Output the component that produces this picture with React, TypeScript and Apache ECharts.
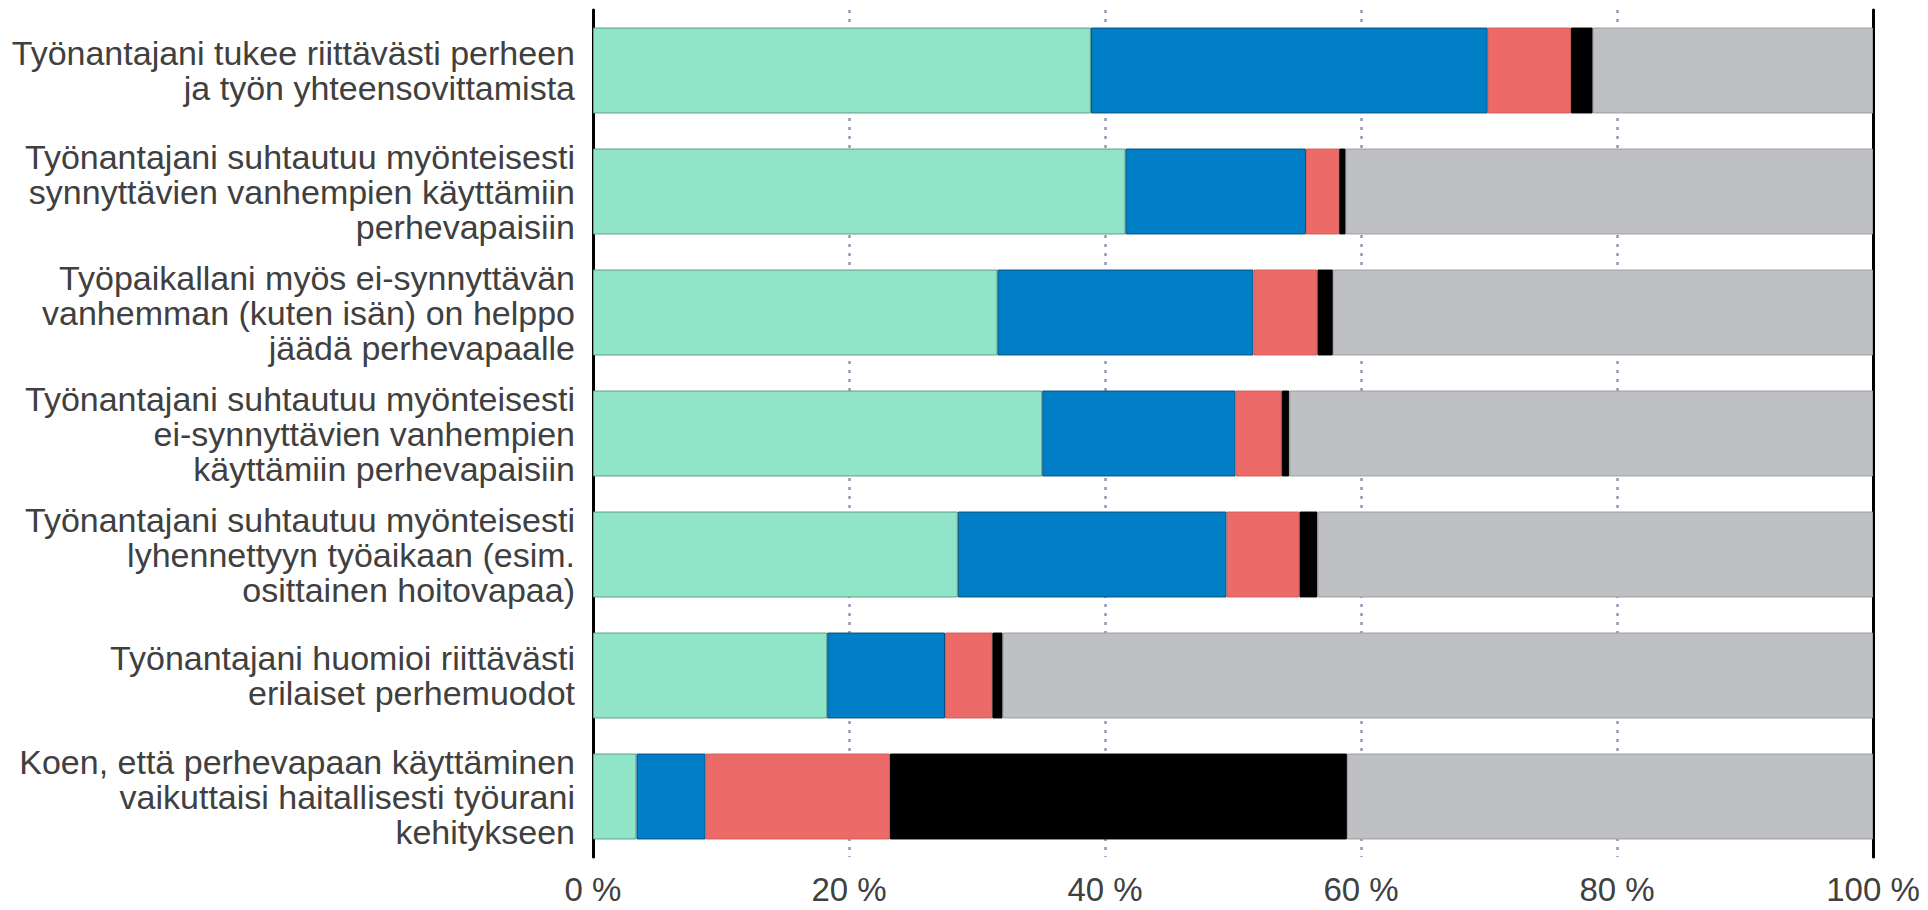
import React, { useEffect, useRef } from "react";
import * as echarts from "echarts";

const categories = [
  "Työnantajani tukee riittävästi perheen\nja työn yhteensovittamista",
  "Työnantajani suhtautuu myönteisesti\nsynnyttävien vanhempien käyttämiin\nperhevapaisiin",
  "Työpaikallani myös ei-synnyttävän\nvanhemman (kuten isän) on helppo\njäädä perhevapaalle",
  "Työnantajani suhtautuu myönteisesti\nei-synnyttävien vanhempien\nkäyttämiin perhevapaisiin",
  "Työnantajani suhtautuu myönteisesti\nlyhennettyyn työaikaan (esim.\nosittainen hoitovapaa)",
  "Työnantajani huomioi riittävästi\nerilaiset perhemuodot",
  "Koen, että perhevapaan käyttäminen\nvaikuttaisi haitallisesti työurani\nkehitykseen",
];

const seriesNames = [
  "Täysin samaa mieltä",
  "Jokseenkin samaa mieltä",
  "Jokseenkin eri mieltä",
  "Täysin eri mieltä",
  "En osaa sanoa",
];

const stronglyAgree = [38.9, 41.6, 31.6, 35.1, 28.5, 18.3, 3.4];
const somewhatAgree = [31.0, 14.1, 20.0, 15.1, 21.0, 9.2, 5.4];
const somewhatDisagree = [6.5, 2.6, 5.0, 3.6, 5.7, 3.7, 14.4];
const stronglyDisagree = [1.7, 0.5, 1.2, 0.6, 1.4, 0.8, 35.7];
const dontKnow = [21.9, 41.2, 42.2, 45.6, 43.4, 68.0, 41.1];

const seriesValues = [stronglyAgree, somewhatAgree, somewhatDisagree, stronglyDisagree, dontKnow];
const fillColors = ["#90E4C8", "#007EC6", "#EC6B68", "#000000", "#BEC0C4"];
const borderColors = ["#5E9E88", "#0B4F80", "#D05E5B", "#000000", "#9C9EA2"];

const FONT = "'Liberation Sans', Arial, sans-serif";

export default function App() {
  const ref = useRef<HTMLDivElement>(null);

  useEffect(() => {
    document.body.style.margin = "0";
    if (!ref.current) return;
    const chart = echarts.init(ref.current, undefined, { renderer: "svg" });
    chart.setOption({
      animation: false,
      backgroundColor: "#ffffff",
      grid: { left: 593, right: 55, top: 10, bottom: 53, containLabel: false },
      xAxis: {
        type: "value",
        min: 0,
        max: 100,
        interval: 20,
        axisLine: { show: false },
        axisTick: { show: false },
        axisLabel: {
          formatter: "{value} %",
          fontSize: 33,
          lineHeight: 34,
          color: "#404040",
          fontFamily: FONT,
          margin: 15,
        },
        splitLine: {
          show: true,
          lineStyle: { color: "#9896B6", width: 2.5, type: [3, 6] },
        },
      },
      yAxis: [
        {
          type: "category",
          inverse: true,
          data: categories,
          axisLine: { show: true, lineStyle: { color: "#000000", width: 3 } },
          axisTick: { show: false },
          axisLabel: {
            fontSize: 34,
            lineHeight: 35,
            color: "#404040",
            fontFamily: FONT,
            margin: 18,
            align: "right",
          },
        },
        {
          type: "category",
          inverse: true,
          position: "right",
          data: categories,
          axisLine: { show: true, lineStyle: { color: "#000000", width: 3 } },
          axisTick: { show: false },
          axisLabel: { show: false },
        },
      ],
      series: seriesValues.map((vals, i) => ({
        name: seriesNames[i],
        type: "bar",
        stack: "total",
        yAxisIndex: 0,
        barCategoryGap: "29%",
        data: vals,
        itemStyle: {
          color: fillColors[i],
          borderColor: borderColors[i],
          borderWidth: 1,
        },
      })),
    });
    return () => chart.dispose();
  }, []);

  return <div ref={ref} style={{ width: 1928, height: 910 }} />;
}
